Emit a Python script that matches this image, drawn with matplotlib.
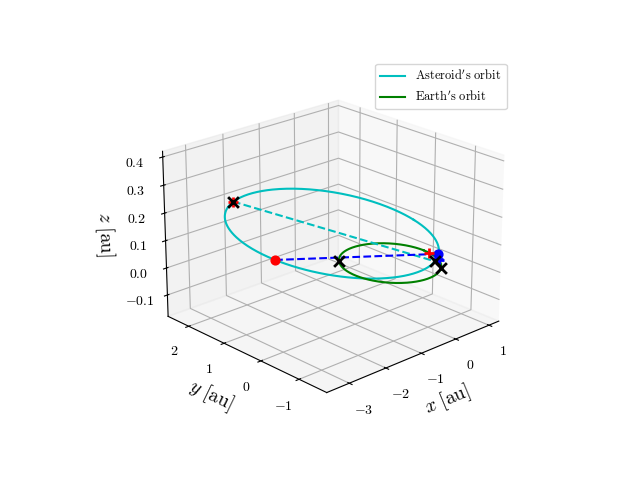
import numpy as np
import matplotlib
matplotlib.use("Agg")
import matplotlib.pyplot as plt

plt.rcParams["mathtext.fontset"] = "cm"
plt.rcParams["font.family"] = "serif"
plt.rcParams["font.serif"] = ["cmr10"]
plt.rcParams["axes.formatter.use_mathtext"] = True

# asteroid orbit parameters
ast_center = [-1.25, 0.35]
ast_axes = [2.35, 1.75]
ast_z = [0.15, -0.06, 0.06]
earth_radius = 1.0

ast_points_x = [-2.47, 0.02]
ast_points_y = [1.86, -1.12]
ast_points_z = [0.232, 0.068]
red_dot = [-3.45, -0.26, 0.185]
blue_dot = [0.39, -0.9, 0.065]
red_plus_x = [-2.47, 0.99]
red_plus_y = [1.86, -0.16]
red_plus_z = [0.232, 0.0]
blue_plus_x = [0.85, 0.15]
blue_plus_y = [-0.53, -1.1]
blue_plus_z = [0.0, 0.068]
earth_x = [-0.7, 0.57]
earth_y = [0.7, -0.82]

t = np.linspace(0, 2*np.pi, 400)
ax_x = ast_center[0] + ast_axes[0]*np.cos(t)
ax_y = ast_center[1] + ast_axes[1]*np.sin(t)
ax_z = ast_z[0] + ast_z[1]*np.cos(t) + ast_z[2]*np.sin(t)

fig = plt.figure(figsize=(6.4, 4.8), dpi=100)
ax = fig.add_subplot(111, projection="3d")
ax.plot(ax_x, ax_y, ax_z, color="c", label=r"$\mathrm{Asteroid's\ orbit}$")
ax.plot(earth_radius*np.cos(t), earth_radius*np.sin(t), 0*t, color="g", label=r"$\mathrm{Earth's\ orbit}$")
ax.plot(ast_points_x, ast_points_y, ast_points_z, "c--")
ax.plot([red_dot[0], blue_dot[0]], [red_dot[1], blue_dot[1]], [red_dot[2], blue_dot[2]], "b--")
ax.scatter(*[[v] for v in red_dot], color="r", s=40, depthshade=False)
ax.scatter(*[[v] for v in blue_dot], color="b", s=40, depthshade=False)
ax.scatter(red_plus_x, red_plus_y, red_plus_z, color="r", marker="+", s=60, linewidths=2, depthshade=False)
ax.scatter(blue_plus_x, blue_plus_y, blue_plus_z, color="b", marker="+", s=60, linewidths=2, depthshade=False)
ax.scatter(ast_points_x, ast_points_y, ast_points_z, color="k", marker="x", s=60, linewidths=2, depthshade=False)
ax.scatter(earth_x, earth_y, [0, 0], color="k", marker="x", s=60, linewidths=2, depthshade=False)

ax.set_xlim(-3.6, 1.3)
ax.set_ylim(-1.7, 2.6)
ax.set_zlim(-0.18, 0.42)
ax.set_xticks([-3, -2, -1, 0, 1])
ax.set_yticks([-1, 0, 1, 2])
ax.set_zticks([-0.1, 0.0, 0.1, 0.2, 0.3, 0.4])
ax.set_xlabel(r"$x\ \mathrm{[au]}$", fontsize=14)
ax.set_ylabel(r"$y\ \mathrm{[au]}$", fontsize=14)
ax.set_zlabel(r"$z\ \mathrm{[au]}$", fontsize=14)
ax.view_init(elev=22, azim=-133)
ax.legend(loc="upper right", fontsize=9)
fig.savefig("out.png", dpi=100)
